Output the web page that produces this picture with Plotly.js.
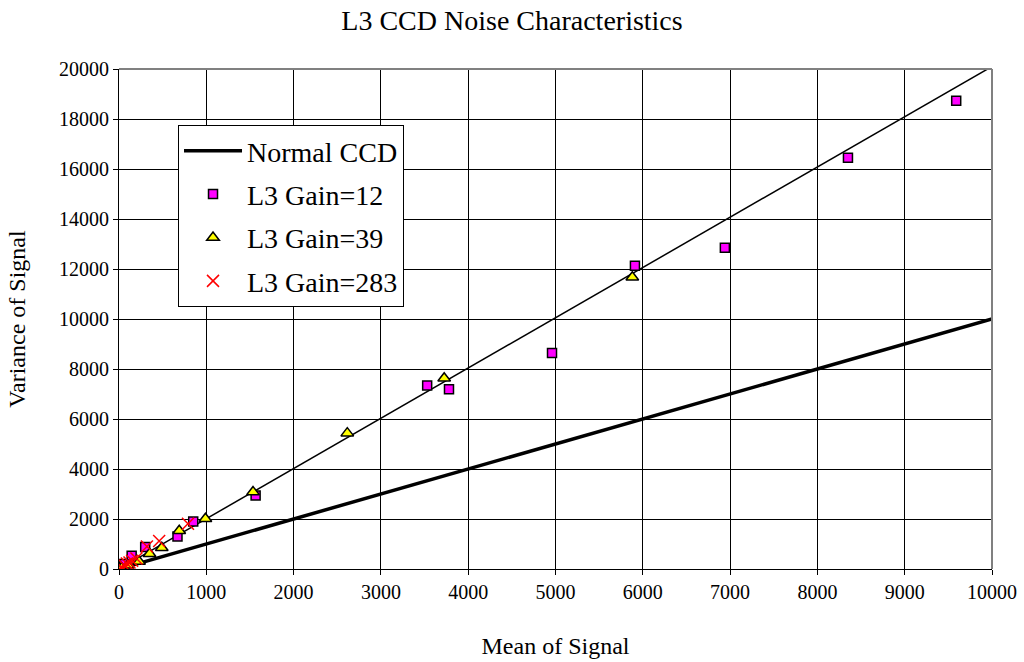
<!DOCTYPE html>
<html>
<head>
<meta charset="utf-8">
<script src="https://cdn.plot.ly/plotly-3.0.1.min.js"></script>
<style>html,body{margin:0;padding:0;background:#fff;}#chart{width:1024px;height:662px;}</style>
</head>
<body>
<div id="chart"></div>
<script>
// Reference lines
const normalX = [0, 10000];
const normalY = [0, 10000];
const l3FitX = [0, 10000];
const l3FitY = [0, 20100];

// L3 Gain=12
const gain12X = [20, 60, 145, 300, 670, 850, 1565, 3530, 3780, 4960, 5910, 6940, 8350, 9590];
const gain12Y = [60, 200, 530, 880, 1300, 1900, 2940, 7340, 7190, 8640, 12130, 12850, 16450, 18730];

// L3 Gain=39
const gain39X = [30, 100, 230, 350, 490, 690, 990, 1535, 2615, 3725, 5880];
const gain39Y = [40, 150, 300, 610, 850, 1530, 2010, 3080, 5435, 7630, 11670];

// L3 Gain=283
const gain283X = [5, 30, 60, 90, 120, 150, 200, 320, 460, 790];
const gain283Y = [10, 70, 150, 220, 260, 330, 420, 900, 1120, 1810];

const xTicks = [0,1000,2000,3000,4000,5000,6000,7000,8000,9000,10000];
const yTicks = [0,2000,4000,6000,8000,10000,12000,14000,16000,18000,20000];

const serif = "Liberation Serif";

const traces = [
  {x: l3FitX, y: l3FitY, mode: 'lines', line: {color: '#000', width: 1.5}, showlegend: false, hoverinfo: 'skip'},
  {x: normalX, y: normalY, mode: 'lines', name: 'Normal CCD', legendgroup: 'a', line: {color: '#000', width: 3.5}},
  {x: gain12X, y: gain12Y, mode: 'markers', name: 'L3 Gain=12', legendgroup: 'b',
   marker: {symbol: 'square', size: 9, color: '#FF00FF', line: {color: '#000', width: 1.5}}},
  {x: gain39X, y: gain39Y, mode: 'markers', name: 'L3 Gain=39', legendgroup: 'c',
   marker: {symbol: 'triangle-up', size: 11, color: '#FFFF00', line: {color: '#000', width: 1.5}}},
  {x: gain283X, y: gain283Y, mode: 'markers', name: 'L3 Gain=283', legendgroup: 'd',
   marker: {symbol: 'x-thin-open', size: 12, color: '#FF0000', line: {color: '#FF0000', width: 1.5}}}
];

const layout = {
  width: 1024, height: 662,
  margin: {l: 119, r: 32, t: 69, b: 93},
  paper_bgcolor: '#fff', plot_bgcolor: '#fff',
  font: {family: serif, color: '#000', size: 20},
  title: {text: 'L3 CCD Noise Characteristics', font: {family: serif, size: 28, color: '#000'}, x: 0.5, xanchor: 'center', y: 0.97, yanchor: 'middle'},
  xaxis: {
    range: [0, 10000], tickvals: xTicks, ticktext: xTicks.map(String),
    showgrid: true, gridcolor: '#000', gridwidth: 1,
    showline: true, linecolor: '#000', linewidth: 1,
    ticks: 'outside', ticklen: 5, tickcolor: '#000',
    zeroline: false, tickfont: {family: serif, size: 20, color: '#000'},
    title: {text: 'Mean of Signal', font: {family: serif, size: 24, color: '#000'}, standoff: 35}
  },
  yaxis: {
    range: [0, 20000], tickvals: yTicks, ticktext: yTicks.map(String),
    showgrid: true, gridcolor: '#000', gridwidth: 1,
    showline: true, linecolor: '#000', linewidth: 1,
    ticks: 'outside', ticklen: 5, tickcolor: '#000',
    zeroline: false, tickfont: {family: serif, size: 20, color: '#000'},
    title: {text: 'Variance of Signal', font: {family: serif, size: 24, color: '#000'}, standoff: 26}
  },
  legend: {
    x: 0.0676, y: 0.888, xanchor: 'left', yanchor: 'top',
    bgcolor: '#fff', bordercolor: '#000', borderwidth: 1,
    font: {family: serif, size: 28, color: '#000'},
    tracegroupgap: 4, itemwidth: 58
  },
  shapes: [
    {type: 'line', xref: 'paper', yref: 'paper', x0: 0, x1: 1, y0: 1, y1: 1, line: {color: '#808080', width: 2}},
    {type: 'line', xref: 'paper', yref: 'paper', x0: 1, x1: 1, y0: 0, y1: 1, line: {color: '#808080', width: 2}}
  ],
  showlegend: true
};

Plotly.newPlot('chart', traces, layout, {displayModeBar: false, staticPlot: true});
</script>
</body>
</html>
